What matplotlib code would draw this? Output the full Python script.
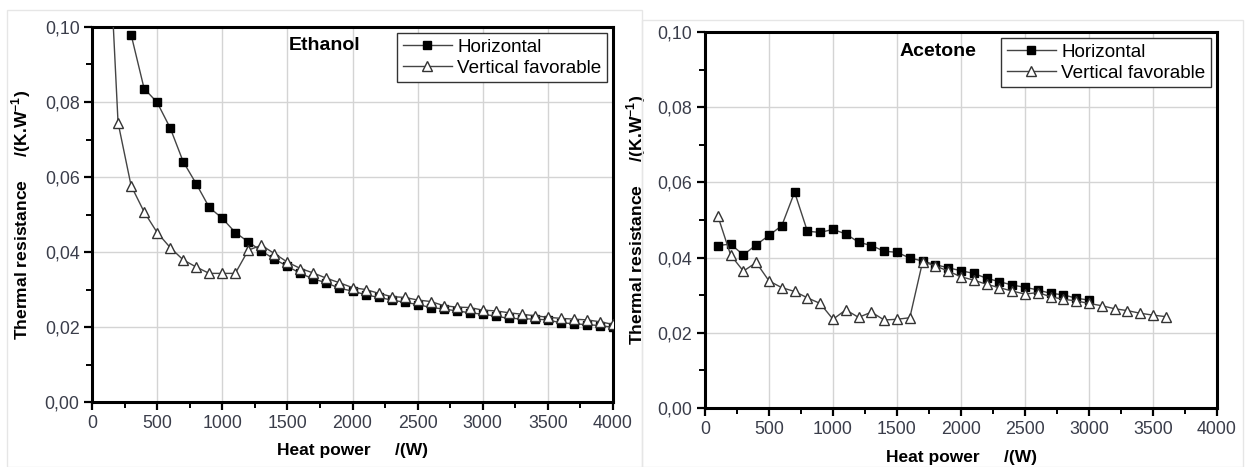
import matplotlib
matplotlib.use("Agg")
import matplotlib.pyplot as plt
from matplotlib.ticker import MultipleLocator, FuncFormatter
from matplotlib.patches import Rectangle

plt.rcParams['font.family'] = ['Liberation Sans', 'DejaVu Sans']
plt.rcParams['mathtext.fontset'] = 'custom'
plt.rcParams['mathtext.rm'] = 'Liberation Sans'
plt.rcParams['mathtext.bf'] = 'Liberation Sans:bold'

# ---------------- Data ----------------
eth_h_x = [300, 400, 500, 600, 700, 800, 900, 1000, 1100, 1200, 1300, 1400, 1500, 1600,
           1700, 1800, 1900, 2000, 2100, 2200, 2300, 2400, 2500, 2600, 2700, 2800, 2900,
           3000, 3100, 3200, 3300, 3400, 3500, 3600, 3700, 3800, 3900, 4000]
eth_h_y = [0.0980, 0.0836, 0.0799, 0.0731, 0.0641, 0.0582, 0.0519, 0.0490, 0.0452, 0.0427,
           0.0403, 0.0381, 0.0362, 0.0343, 0.0328, 0.0318, 0.0303, 0.0296, 0.0286, 0.0279,
           0.0272, 0.0266, 0.0260, 0.0252, 0.0248, 0.0243, 0.0238, 0.0234, 0.0229, 0.0223,
           0.0222, 0.0221, 0.0219, 0.0211, 0.0209, 0.0206, 0.0204, 0.0199]

eth_v_x = [100, 200, 300, 400, 500, 600, 700, 800, 900, 1000, 1100, 1200, 1300, 1400,
           1500, 1600, 1700, 1800, 1900, 2000, 2100, 2200, 2300, 2400, 2500, 2600, 2700,
           2800, 2900, 3000, 3100, 3200, 3300, 3400, 3500, 3600, 3700, 3800, 3900, 4000]
eth_v_y = [0.145, 0.0745, 0.0577, 0.0507, 0.0452, 0.0412, 0.0379, 0.0360, 0.0343, 0.0343,
           0.0343, 0.0405, 0.0418, 0.0396, 0.0373, 0.0356, 0.0344, 0.0330, 0.0318, 0.0305,
           0.0300, 0.0290, 0.0281, 0.0279, 0.0272, 0.0268, 0.0257, 0.0253, 0.0252, 0.0245,
           0.0243, 0.0238, 0.0234, 0.0230, 0.0226, 0.0223, 0.0221, 0.0219, 0.0214, 0.0207]

ace_h_x = [100, 200, 300, 400, 500, 600, 700, 800, 900, 1000, 1100, 1200, 1300, 1400,
           1500, 1600, 1700, 1800, 1900, 2000, 2100, 2200, 2300, 2400, 2500, 2600, 2700,
           2800, 2900, 3000]
ace_h_y = [0.0432, 0.0436, 0.0407, 0.0434, 0.0459, 0.0485, 0.0574, 0.0470, 0.0467, 0.0475,
           0.0463, 0.0441, 0.0432, 0.0417, 0.0414, 0.0399, 0.0391, 0.0381, 0.0373, 0.0365,
           0.0358, 0.0345, 0.0336, 0.0327, 0.0321, 0.0314, 0.0305, 0.0301, 0.0292, 0.0287]

ace_v_x = [100, 200, 300, 400, 500, 600, 700, 800, 900, 1000, 1100, 1200, 1300, 1400,
           1500, 1600, 1700, 1800, 1900, 2000, 2100, 2200, 2300, 2400, 2500, 2600, 2700,
           2800, 2900, 3000, 3100, 3200, 3300, 3400, 3500, 3600]
ace_v_y = [0.0511, 0.0407, 0.0364, 0.0387, 0.0338, 0.0320, 0.0310, 0.0293, 0.0278, 0.0236,
           0.0261, 0.0241, 0.0255, 0.0234, 0.0236, 0.0240, 0.0389, 0.0378, 0.0364, 0.0349,
           0.0340, 0.0329, 0.0320, 0.0311, 0.0303, 0.0307, 0.0296, 0.0289, 0.0285, 0.0278,
           0.0272, 0.0264, 0.0259, 0.0252, 0.0247, 0.0243]

series_labels = ["Horizontal", "Vertical favorable"]
panel_titles = ["Ethanol", "Acetone"]
x_label = "Heat power     /(W)"
y_label = "Thermal resistance     /(K.W$^{\\mathbf{-1}}$)"

# ---------------- Figure ----------------
W, H = 1247, 467
fig = plt.figure(figsize=(W / 100, H / 100), dpi=100)

# light screenshot frames
fig.patches.append(Rectangle((7 / W, 0), (642 - 7) / W, (H - 10) / H, transform=fig.transFigure,
                             fill=False, edgecolor='#e6e6e6', linewidth=1, zorder=0))
fig.patches.append(Rectangle((642 / W, 0), (1243 - 642) / W, (H - 20) / H, transform=fig.transFigure,
                             fill=False, edgecolor='#e6e6e6', linewidth=1, zorder=0))

axL = fig.add_axes([92 / W, (H - 402) / H, 521 / W, 375 / H])
axR = fig.add_axes([705 / W, (H - 408) / H, 512 / W, 376 / H])

tick_color = '#3a3d4a'
line_color = '#444444'


def comma_fmt(v, pos):
    return f"{v:.2f}".replace('.', ',')


def style(ax, title, tx, ty, ylab_x, xlab_y):
    ax.set_xlim(0, 4000)
    ax.set_ylim(0, 0.10)
    ax.xaxis.set_major_locator(MultipleLocator(500))
    ax.xaxis.set_minor_locator(MultipleLocator(250))
    ax.yaxis.set_major_locator(MultipleLocator(0.02))
    ax.yaxis.set_minor_locator(MultipleLocator(0.01))
    ax.yaxis.set_major_formatter(FuncFormatter(comma_fmt))
    ax.grid(True, which='major', color='#d4d4d4', linewidth=1.0, zorder=0)
    ax.set_axisbelow(True)
    for s in ax.spines.values():
        s.set_linewidth(2.2)
        s.set_color('black')
    ax.tick_params(which='major', direction='out', length=6, width=1.6, pad=3,
                   labelsize=12.8, labelcolor=tick_color, top=False, right=False)
    ax.tick_params(which='minor', direction='out', length=4, width=1.4, top=False, right=False)
    ax.set_xlabel(x_label, fontsize=12.5, fontweight='bold')
    ax.set_ylabel(y_label, fontsize=12.6, fontweight='bold')
    ax.yaxis.set_label_coords(ylab_x, 0.5)
    ax.xaxis.set_label_coords(0.5, xlab_y)
    ax.text(tx, ty, title, transform=ax.transAxes, fontsize=14, fontweight='bold',
            ha='left', va='center')
    ax.legend(loc='upper right', bbox_to_anchor=(1, 1), borderaxespad=0.3,
              fontsize=13.6, frameon=True, fancybox=False, edgecolor='#333333',
              framealpha=1, handlelength=2.6, handletextpad=0.3, borderpad=0.3,
              labelspacing=0.2).get_frame().set_linewidth(1.0)


def plot_series(ax, hx, hy, vx, vy):
    ax.plot(hx, hy, '-', color=line_color, lw=1.0, marker='s', ms=5.5,
            mfc='black', mec='black', label=series_labels[0], zorder=3)
    ax.plot(vx, vy, '-', color=line_color, lw=1.0, marker='^', ms=7,
            mfc='white', mec='#333333', mew=1.0, label=series_labels[1], zorder=4)


plot_series(axL, eth_h_x, eth_h_y, eth_v_x, eth_v_y)
plot_series(axR, ace_h_x, ace_h_y, ace_v_x, ace_v_y)
style(axL, panel_titles[0], 0.378, 0.952, -0.113, -0.109)
style(axR, panel_titles[1], 0.379, 0.947, -0.111, -0.112)

fig.savefig('out.png', dpi=100)
